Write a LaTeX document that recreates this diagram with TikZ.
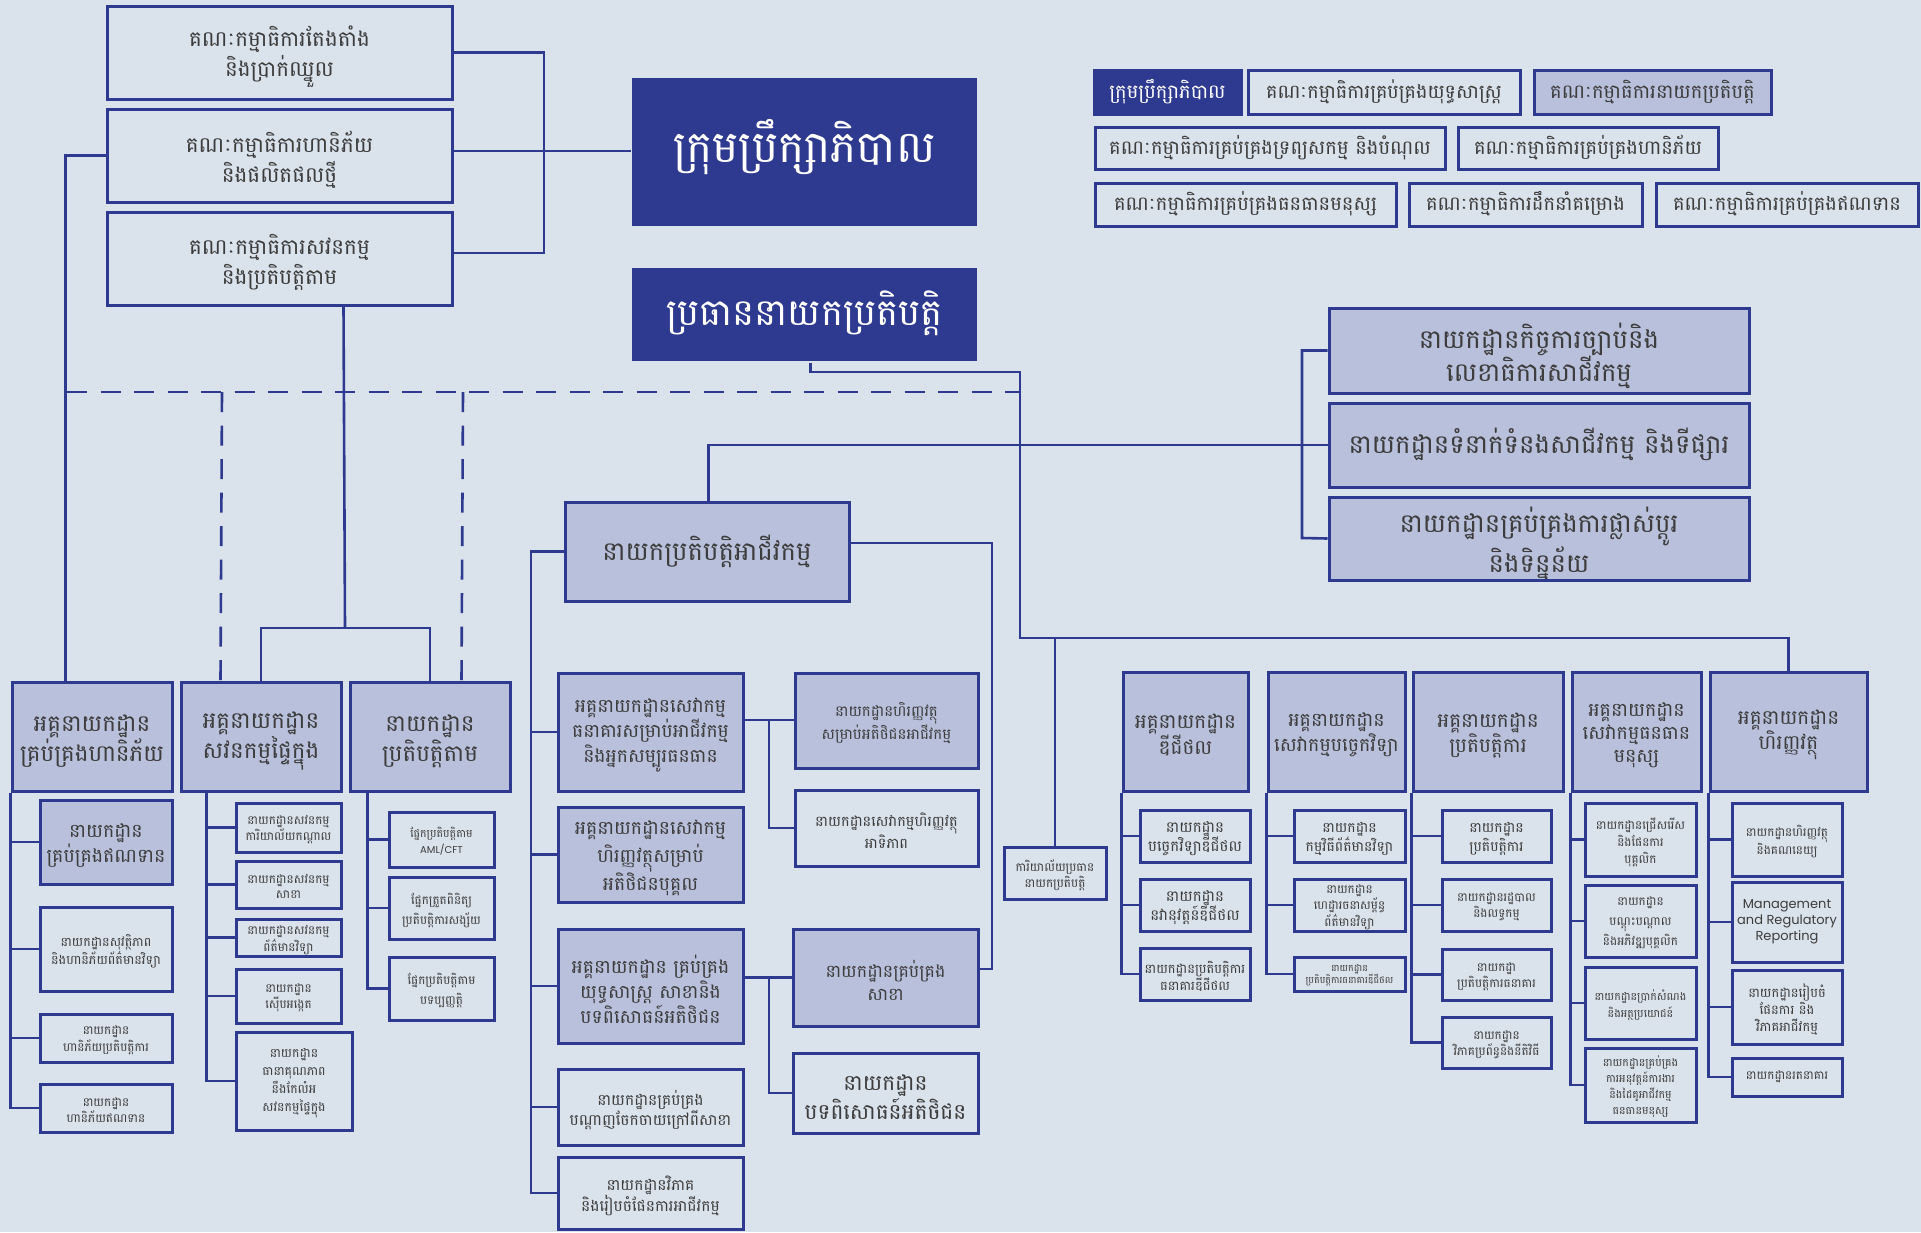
\documentclass[tikz,border=0pt]{standalone}
\usepackage{fontspec}
\setmainfont{Poppins}
\newfontfamily\khm[Script=Khmer]{Battambang}
\usetikzlibrary{fit,calc}
\definecolor{bg}{HTML}{DAE2EC}
\definecolor{navy}{HTML}{2E3A8F}
\definecolor{lav}{HTML}{B8C0DB}
\definecolor{tgray}{HTML}{3D3D3D}
\tikzset{
  box/.style={draw=navy, line width=3pt, text=tgray, align=center, inner sep=0pt},
  lbox/.style={box, fill=lav},
  dbox/.style={box, fill=navy, text=white},
  conn/.style={draw=navy, line width=2.6pt},
  dsh/.style={draw=navy, line width=2.6pt, dash pattern=on 20pt off 13.5pt},
}
% name, x1, y1, x2, y2, style, size, skip, text  (multi-line)
\newcommand\bx[9]{%
  \node[#6, fit={(#2,#3) (#4,#5)}] (#1) {};
  \node[#6, draw=none, fill=none, font=\khm\fontsize{#7}{#8}\selectfont, yshift={-0.19*#7pt}] (#1t) at (#1.center) {#9};}
% single-line variant
\newcommand\bxs[9]{%
  \node[#6, fit={(#2,#3) (#4,#5)}] (#1) {};
  \node[#6, draw=none, fill=none, font=\khm\fontsize{#7}{#8}\selectfont, yshift={0.02*#7pt}] (#1t) at (#1.center) {#9};}
\begin{document}
\begin{tikzpicture}[x=1pt,y=-1pt]
\fill[bg] (0,0) rectangle (1921,1232);
\useasboundingbox (0,0) rectangle (1921,1232);

% top committees
\bx{k1}{107}{6}{452}{99}{box}{21.5}{30}{គណៈកម្មាធិការតែងតាំង\\និងប្រាក់ឈ្នួល}
\bx{k2}{107}{109}{452}{202}{box}{21.5}{30}{គណៈកម្មាធិការហានិភ័យ\\និងផលិតផលថ្មី}
\bx{k3}{107}{212}{452}{305}{box}{21.5}{30}{គណៈកម្មាធិការសវនកម្ម\\និងប្រតិបត្តិតាម}
\node[dbox, draw=none, fit={(632,78) (977,226)}] (board) {};
\node[text=white, font=\khm\fontsize{44}{52}\selectfont, yshift=5pt] (boardt) at (board.center) {ក្រុមប្រឹក្សាភិបាល};
\bxs{ceo}{632}{268}{977}{361}{dbox,draw=none}{37}{45}{ប្រធាននាយកប្រតិបត្តិ}

% legend
\bxs{l1}{1094}{70}{1241}{114}{dbox}{19.5}{24}{ក្រុមប្រឹក្សាភិបាល}
\bxs{l2}{1248}{70}{1520}{114}{box}{19.2}{24}{គណៈកម្មាធិការគ្រប់គ្រងយុទ្ធសាស្ត្រ}
\bxs{l3}{1534}{70}{1771}{114}{lbox}{19.5}{24}{គណៈកម្មាធិការនាយកប្រតិបត្តិ}
\bxs{l4}{1095}{127}{1445}{169}{box}{19.5}{24}{គណៈកម្មាធិការគ្រប់គ្រងទ្រព្យសកម្ម និងបំណុល}
\bxs{l5}{1458}{127}{1718}{169}{box}{19.5}{24}{គណៈកម្មាធិការគ្រប់គ្រងហានិភ័យ}
\bxs{l6}{1095}{183}{1396}{226}{box}{19.5}{24}{គណៈកម្មាធិការគ្រប់គ្រងធនធានមនុស្ស}
\bxs{l7}{1409}{183}{1642}{226}{box}{19.5}{24}{គណៈកម្មាធិការដឹកនាំគម្រោង}
\bxs{l8}{1656}{183}{1918}{226}{box}{19.5}{24}{គណៈកម្មាធិការគ្រប់គ្រងឥណទាន}

% right departments
\bx{r1}{1329}{308}{1749}{393}{lbox}{26}{33}{នាយកដ្ឋានកិច្ចការច្បាប់និង\\លេខាធិការសាជីវកម្ម}
\bxs{r2}{1329}{403}{1749}{487}{lbox}{26}{33}{នាយកដ្ឋានទំនាក់ទំនងសាជីវកម្ម និងទីផ្សារ}
\bx{r3}{1329}{497}{1749}{580}{lbox}{26}{33}{នាយកដ្ឋានគ្រប់គ្រងការផ្លាស់ប្តូរ\\និងទិន្នន័យ}

% business
\bxs{bo}{565}{502}{849}{601}{lbox}{26}{32}{នាយកប្រតិបត្តិអាជីវកម្ម}
\bx{m1}{558}{673}{743}{791}{lbox}{18.8}{25}{អគ្គនាយកដ្ឋានសេវាកម្ម\\ធនាគារសម្រាប់អាជីវកម្ម\\និងអ្នកសម្បូរធនធាន}
\bx{m2}{558}{807}{743}{902}{lbox}{18.8}{28}{អគ្គនាយកដ្ឋានសេវាកម្ម\\ហិរញ្ញវត្ថុសម្រាប់\\អតិថិជនបុគ្គល}
\bx{m3}{558}{929}{743}{1043}{lbox}{18.8}{25}{អគ្គនាយកដ្ឋាន គ្រប់គ្រង\\យុទ្ធសាស្ត្រ សាខានិង\\បទពិសោធន៍អតិថិជន}
\bx{m4}{558}{1069}{743}{1145}{box}{15.5}{20}{នាយកដ្ឋានគ្រប់គ្រង\\បណ្តាញចែកចាយក្រៅពីសាខា}
\bx{m5}{558}{1157}{743}{1229}{box}{15.5}{20}{នាយកដ្ឋានវិភាគ\\និងរៀបចំផែនការអាជីវកម្ម}
\bx{n1}{795}{673}{978}{768}{lbox}{15}{18}{នាយកដ្ឋានហិរញ្ញវត្ថុ\\សម្រាប់អតិថិជនអាជីវកម្ម}
\bx{n2}{795}{790}{978}{866}{box}{14.5}{18}{នាយកដ្ឋានសេវាកម្មហិរញ្ញវត្ថុ\\អាទិភាព}
\bx{n3}{793}{929}{978}{1026}{lbox}{17.5}{23}{នាយកដ្ឋានគ្រប់គ្រង\\សាខា}
\bx{n4}{793}{1053}{978}{1133}{box}{21.7}{29}{នាយកដ្ឋាន\\បទពិសោធន៍អតិថិជន}
\bx{cao}{1004}{847}{1106}{899}{box}{12}{16}{ការិយាល័យប្រធាន\\នាយកប្រតិបត្តិ}

% left columns
\bx{a0}{12}{682}{172}{791}{lbox}{23}{30}{អគ្គនាយកដ្ឋាន\\គ្រប់គ្រងហានិភ័យ}
\bx{b0}{181}{682}{341}{791}{lbox}{23}{30}{អគ្គនាយកដ្ឋាន\\សវនកម្មផ្ទៃក្នុង}
\bx{c0}{350}{682}{510}{791}{lbox}{23}{30}{នាយកដ្ឋាន\\ប្រតិបត្តិតាម}
\bx{a1}{40}{800}{172}{884}{lbox}{19}{25}{នាយកដ្ឋាន\\គ្រប់គ្រងឥណទាន}
\bx{a2}{40}{907}{172}{991}{box}{12.7}{16}{នាយកដ្ឋានសុវត្ថិភាព\\និងហានិភ័យព័ត៌មានវិទ្យា}
\bx{a3}{40}{1014}{172}{1062}{box}{12}{15}{នាយកដ្ឋាន\\ហានិភ័យប្រតិបត្តិការ}
\bx{a4}{40}{1084}{172}{1132}{box}{12}{15}{នាយកដ្ឋាន\\ហានិភ័យឥណទាន}
\bx{b1}{236}{803}{341}{852}{box}{12}{15}{នាយកដ្ឋានសវនកម្ម\\ការិយាល័យកណ្តាល}
\bx{b2}{236}{861}{341}{908}{box}{12}{15}{នាយកដ្ឋានសវនកម្ម\\សាខា}
\bx{b3}{236}{919}{341}{956}{box}{12}{14}{នាយកដ្ឋានសវនកម្ម\\ព័ត៌មានវិទ្យា}
\bx{b4}{236}{969}{341}{1023}{box}{12}{16}{នាយកដ្ឋាន\\ស៊ើបអង្កេត}
\bx{b5}{236}{1032}{352}{1130}{box}{12.5}{18}{នាយកដ្ឋាន\\ធានាគុណភាព\\នឹងកែលំអ\\សវនកម្មផ្ទៃក្នុង}
\bx{c1}{389}{812}{494}{867}{box}{11}{16}{ផ្នែកប្រតិបត្តិតាម\\{\fontspec{Poppins}\fontsize{10}{16}\selectfont AML/CFT}}
\bx{c2}{389}{877}{494}{939}{box}{12}{20}{ផ្នែកត្រួតពិនិត្យ\\ប្រតិបត្តិការសង្ស័យ}
\bx{c3}{389}{957}{494}{1020}{box}{12}{20}{ផ្នែកប្រតិបត្តិតាម\\បទប្បញ្ញត្តិ}

% right columns
\bx{d0}{1123}{672}{1248}{791}{lbox}{20}{25}{អគ្គនាយកដ្ឋាន\\ឌីជីថល}
\bx{e0}{1268}{672}{1405}{791}{lbox}{19}{25}{អគ្គនាយកដ្ឋាន\\សេវាកម្មបច្ចេកវិទ្យា}
\bx{f0}{1413}{672}{1563}{791}{lbox}{20}{25}{អគ្គនាយកដ្ឋាន\\ប្រតិបត្តិការ}
\bx{g0}{1572}{672}{1701}{791}{lbox}{19}{23}{អគ្គនាយកដ្ឋាន\\សេវាកម្មធនធាន\\មនុស្ស}
\bx{h0}{1710}{672}{1867}{791}{lbox}{20}{25}{អគ្គនាយកដ្ឋាន\\ហិរញ្ញវត្ថុ}
\bx{d1}{1140}{810}{1250}{862}{box}{15}{19}{នាយកដ្ឋាន\\បច្ចេកវិទ្យាឌីជីថល}
\bx{d2}{1140}{879}{1250}{931}{box}{15}{19}{នាយកដ្ឋាន\\នវានុវត្តន៍ឌីជីថល}
\bx{d3}{1140}{948}{1250}{1000}{box}{13}{16}{នាយកដ្ឋានប្រតិបត្តិការ\\ធនាគារឌីជីថល}
\bx{e1}{1294}{810}{1405}{862}{box}{14}{19}{នាយកដ្ឋាន\\កម្មវិធីព័ត៌មានវិទ្យា}
\bx{e2}{1294}{879}{1405}{931}{box}{12}{15}{នាយកដ្ឋាន\\ហេដ្ឋារចនាសម្ព័ន្ធ\\ព័ត៌មានវិទ្យា}
\bx{e3}{1294}{957}{1405}{991}{box}{9.5}{12}{នាយកដ្ឋាន\\ប្រតិបត្តិការធនាគារឌីជីថល}
\bx{f1}{1442}{810}{1551}{862}{box}{14}{19}{នាយកដ្ឋាន\\ប្រតិបត្តិការ}
\bx{f2}{1442}{879}{1551}{931}{box}{12}{16}{នាយកដ្ឋានរដ្ឋបាល\\និងលទ្ធកម្ម}
\bx{f3}{1442}{949}{1551}{1000}{box}{12}{16}{នាយកដ្ឋា\\ប្រតិបត្តិការធនាគារ}
\bx{f4}{1442}{1017}{1551}{1068}{box}{12}{16}{នាយកដ្ឋាន\\វិភាគប្រព័ន្ធនិងនីតិវិធី}
\bx{g1}{1585}{803}{1696}{876}{box}{12}{17}{នាយកដ្ឋានជ្រើសរើស\\និងផែនការ\\បុគ្គលិក}
\bx{g2}{1585}{885}{1696}{957}{box}{12}{20}{នាយកដ្ឋាន\\បណ្តុះបណ្តាល\\និងអភិវឌ្ឍបុគ្គលិក}
\bx{g3}{1585}{967}{1696}{1039}{box}{11}{17}{នាយកដ្ឋានប្រាក់សំណង\\និងអត្ថប្រយោជន៍}
\bx{g4}{1585}{1048}{1696}{1122}{box}{11}{16}{នាយកដ្ឋានគ្រប់គ្រង\\ការអនុវត្តន៍ការងារ\\និងដៃគូអាជីវកម្ម\\ធនធានមនុស្ស}
\bx{h1}{1732}{803}{1842}{876}{box}{12}{16}{នាយកដ្ឋានហិរញ្ញវត្ថុ\\និងគណនេយ្យ}
\node[box, fit={(1732,882) (1842,962)}] (h2) {};
\node[text=tgray, align=center, font=\fontsize{13}{16}\selectfont] (h2t) at (h2.center) {Management\\and Regulatory\\Reporting};
\bx{h3}{1732}{970}{1842}{1044}{box}{13}{17}{នាយកដ្ឋានរៀបចំ\\ផែនការ និង\\វិភាគអាជីវកម្ម}
\bxs{h4}{1732}{1058}{1842}{1096}{box}{12}{16}{នាយកដ្ឋានរតនាគារ}

% connectors top
\draw[conn] (k1.east) -| (544,253) -- (k3.east |- 0,253);
\draw[conn] (k2.east |- 0,151) -- (board.west |- 0,151);
\draw[conn] (k2.west) -| ($(a0.north west)+(55,0)$);
\draw[conn] ($(k3.south west)+(238,0)$) -- (345,628);
\draw[conn] (b0.north) |- (345,628) -| (c0.north);
\draw[dsh] (67,392) -- (1020,392);
\draw[dsh] (222,392) -- ($(b0.north west)+(41,0)$);
\draw[dsh] (463,392) -- ($(c0.north west)+(113,0)$);
\draw[conn] ($(ceo.south west)+(180,0)$) |- (1020,372) -- (1020,638) -| (h0.north);
\draw[conn] (cao.north) -- (cao.north |- 0,638);
\draw[conn] ($(bo.north west)+(145,0)$) |- (r2.west);
\draw[conn] (r1.west) -| (1302,538) -- (r3.west);

% business connectors
\draw[conn] (bo.west) -| (m5.west -| 531,0) -- (m5.west);
\foreach \n in {m1,m2,m3,m4} \draw[conn] (\n.west) -- (\n.west -| 531,0);
\draw[conn] (bo.east |- 0,543) -| (992,969) -- (n3.east |- 0,969);
\draw[conn] (m1.east |- 0,720) -- (n1.west |- 0,720);
\draw[conn] (769,720) |- (n2.west);
\draw[conn] (n3.west) -- (n3.west -| m3.east);
\draw[conn] (n3.west -| 769,0) |- (n4.west);

% columns
\draw[conn] (a0.south west) |- (a4.west);
\foreach \n in {a1,a2,a3} \draw[conn] (\n.west) -- (\n.west -| a0.south west);
\draw[conn] ($(b0.south west)+(27,0)$) |- (b5.west);
\foreach \n in {b1,b2,b3,b4} \draw[conn] (\n.west) -- (\n.west -| 208,0);
\draw[conn] ($(c0.south west)+(19,0)$) |- (c3.west);
\foreach \n in {c1,c2} \draw[conn] (\n.west) -- (\n.west -| 369,0);
\draw[conn] (d0.south west) |- (d3.west);
\foreach \n in {d1,d2} \draw[conn] (\n.west) -- (\n.west -| d0.south west);
\draw[conn] (e0.south west) |- (e3.west);
\foreach \n in {e1,e2} \draw[conn] (\n.west) -- (\n.west -| e0.south west);
\draw[conn] (f0.south west) |- (f4.west);
\foreach \n in {f1,f2,f3} \draw[conn] (\n.west) -- (\n.west -| f0.south west);
\draw[conn] (g0.south west) |- (g4.west);
\foreach \n in {g1,g2,g3} \draw[conn] (\n.west) -- (\n.west -| g0.south west);
\draw[conn] (h0.south west) |- (h4.west);
\foreach \n in {h1,h2,h3} \draw[conn] (\n.west) -- (\n.west -| h0.south west);
\end{tikzpicture}
\end{document}
